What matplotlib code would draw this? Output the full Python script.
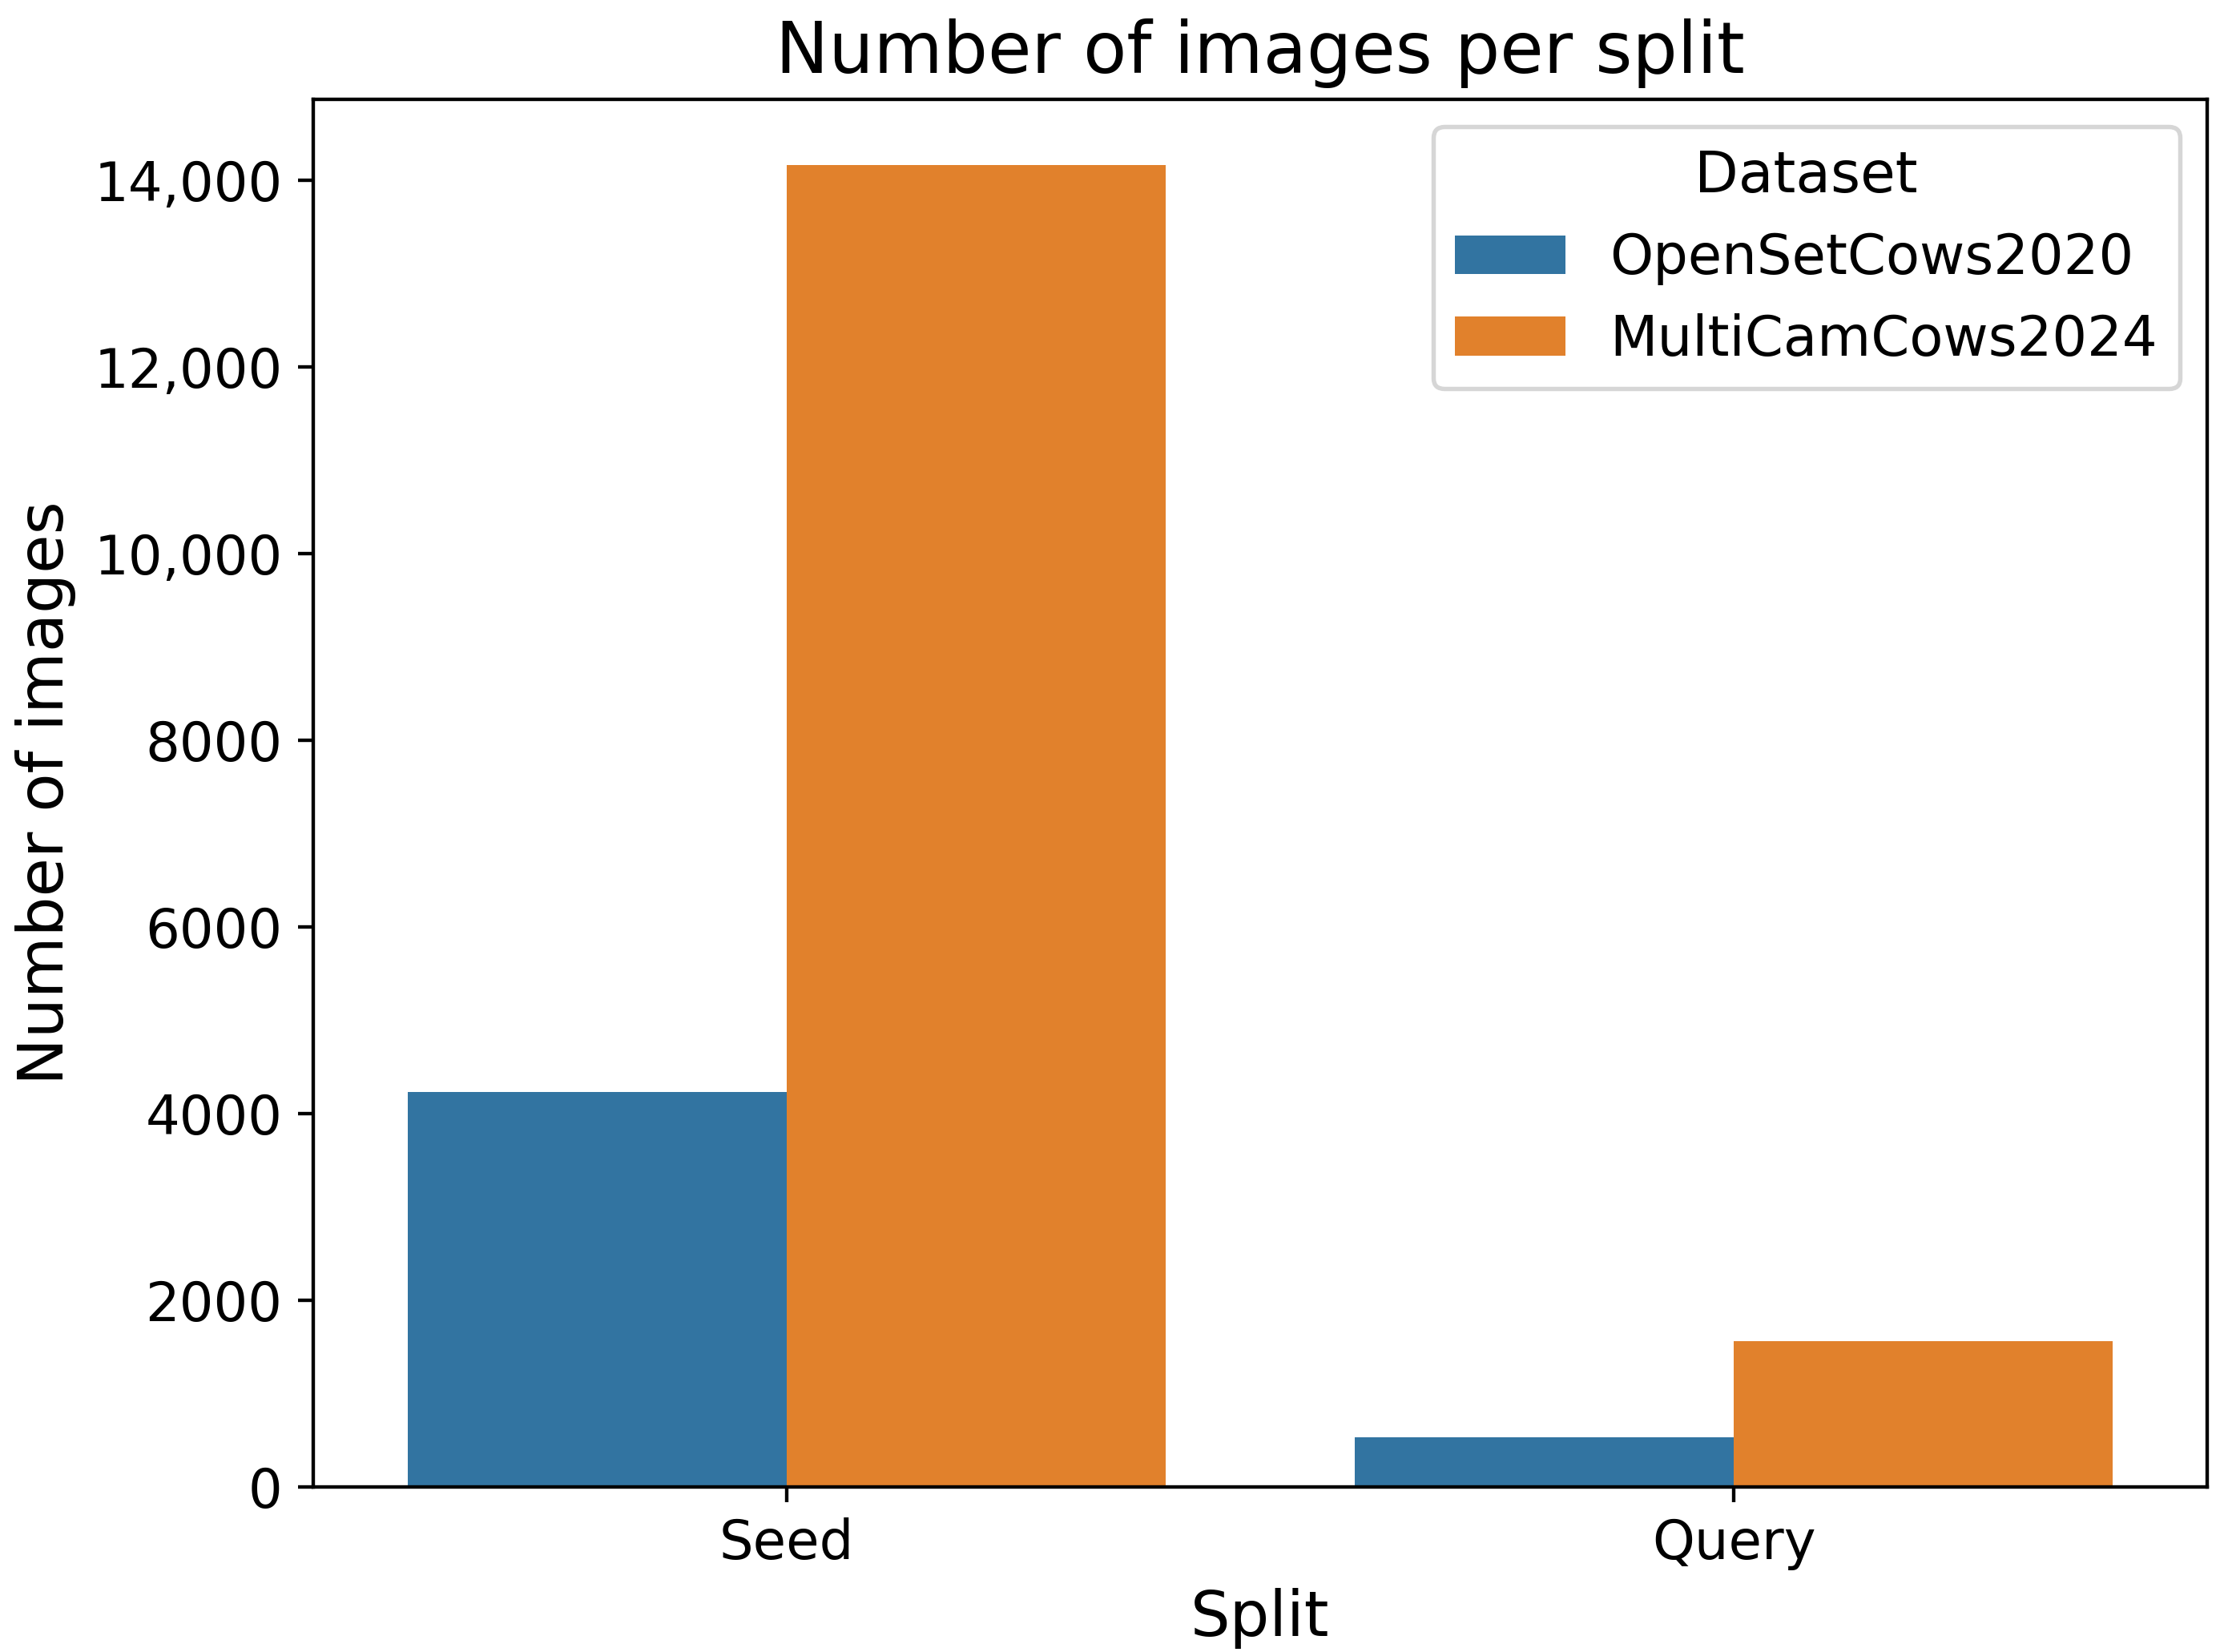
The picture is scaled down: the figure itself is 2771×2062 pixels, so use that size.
import pandas as pd
import seaborn as sns
import matplotlib
matplotlib.use("Agg")
import matplotlib.pyplot as plt
from matplotlib.ticker import FuncFormatter

# データ
splits = ["Seed", "Query"]
datasets = ["OpenSetCows2020", "MultiCamCows2024"]
opensetcows_counts = [4226, 528]
multicamcows_counts = [14160, 1564]

rows = []
for s, a, b in zip(splits, opensetcows_counts, multicamcows_counts):
    rows.append({"Split": s, "Dataset": datasets[0], "Number of images": a})
    rows.append({"Split": s, "Dataset": datasets[1], "Number of images": b})
df = pd.DataFrame(rows)

plt.rcParams['font.family'] = ['DejaVu Sans']

dpi = 394
fig = plt.figure(figsize=(2771 / dpi, 2062 / dpi), dpi=dpi)
ax = fig.add_axes([0.141, 0.100, 0.9943 - 0.141, 0.940 - 0.100])

sns.barplot(data=df, x="Split", y="Number of images", hue="Dataset",
            hue_order=datasets, order=splits, ax=ax)


# 10,000以上だけカンマ区切り
def fmt(v, pos):
    if abs(v) >= 10000:
        return f"{v:,.0f}"
    return f"{v:.0f}"


ax.yaxis.set_major_formatter(FuncFormatter(fmt))
ax.tick_params(axis='both', labelsize=12.3)

ax.set_title("Number of images per split", fontsize=16.2)
ax.set_xlabel("Split", fontsize=14.3)
ax.set_ylabel("Number of images", fontsize=14.4)

ax.legend(title="Dataset", loc="upper right", fontsize=12.6, title_fontsize=13)

fig.savefig("out.png", dpi=dpi)
